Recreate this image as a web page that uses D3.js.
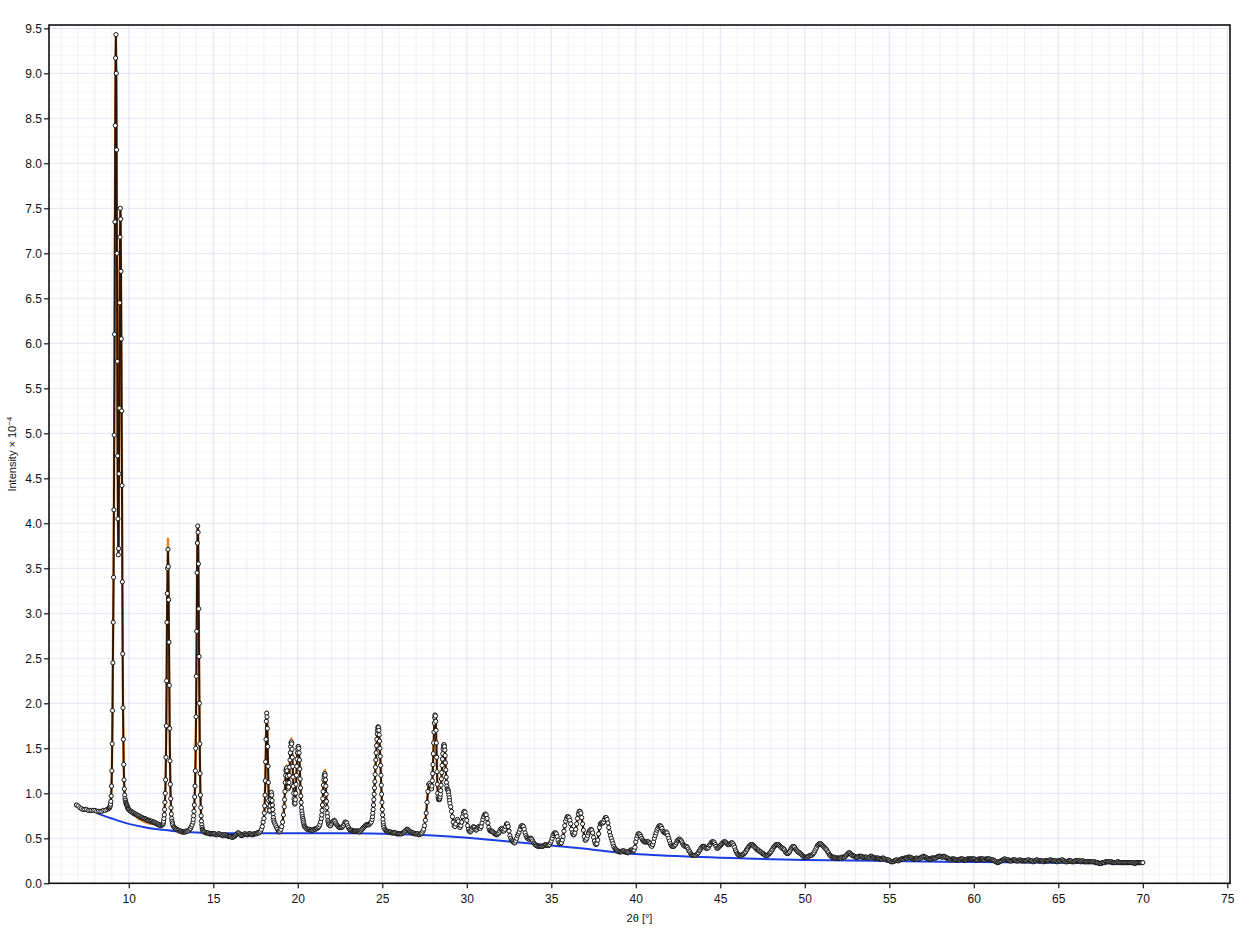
<!DOCTYPE html>
<html><head><meta charset="utf-8">
<script src="https://cdn.jsdelivr.net/npm/d3@7"></script>
<style>html,body{margin:0;padding:0;background:#fff;} svg{display:block;font-family:"Liberation Sans",Arial,Helvetica,sans-serif;}</style>
</head><body><svg id="chart" width="1260" height="933"></svg>
<script>
// ---------- DATA (2θ in degrees, intensity ×10^-4) ----------
const obsLow = [0.87,0.86,0.84,0.83,0.82,0.82,0.82,0.81,0.81,0.81,0.81,0.81,0.8,0.8,0.8,0.8,0.81,0.81,0.82,0.83]; // 6.9–8.8, step 0.1
const obsPeak9 = [0.83,0.84,0.84,0.85,0.86, 0.88,0.91,0.97,1.08,1.25, 1.55,1.92,2.45,2.9,3.4, 4.15,4.98,6.1,7.35,8.42,
  9.17,9.43,9.0,8.15,7.0, 5.8,4.75,4.05,3.65,3.72, 4.55,5.28,6.45,7.18,7.5, 7.38,6.8,6.05,5.25,4.42,
  3.35,2.55,1.95,1.6,1.32, 1.15,1.05,0.98,0.94,0.92, 0.9,0.89,0.88,0.87,0.86, 0.85,0.84,0.83,0.82]; // 8.82–9.98, step 0.02
const obsTail10 = [0.82,0.81,0.8,0.8,0.79, 0.78,0.78,0.77,0.77,0.76, 0.76,0.75,0.75,0.74,0.74, 0.73,0.73,0.72,0.72,0.72,
  0.71,0.71,0.7,0.7,0.7, 0.69,0.69,0.69,0.68,0.68, 0.68,0.67,0.67,0.66,0.66, 0.65,0.65,0.64,0.64,0.65]; // 10.0–11.95, step 0.05
const obsPeak12 = [0.65,0.66,0.67,0.69,0.72, 0.76,0.82,0.9,1.0,1.15, 1.4,1.75,2.25,2.9,3.22, 3.5,3.71,3.52,3.15,2.68,
  2.2,1.72,1.36,1.1,0.94, 0.84,0.77,0.72,0.69,0.67, 0.65]; // 12.00–12.60, step 0.02
const obsValley13 = [0.63,0.62,0.61,0.6,0.6, 0.59,0.59,0.58,0.58,0.58, 0.57,0.57,0.57,0.57,0.57, 0.58,0.58,0.58,0.59,0.6,
  0.61,0.63,0.65,0.68]; // 12.65–13.80, step 0.05
const obsPeak14 = [0.71,0.75,0.8,0.87,0.96, 1.08,1.25,1.5,1.85,2.3, 2.8,3.45,3.78,3.97,3.9, 3.55,3.05,2.52,2.0,1.55,
  1.22,0.98,0.84,0.75,0.69, 0.65,0.62,0.6,0.59,0.58]; // 13.82–14.40, step 0.02
const obs15to18 = [0.57,0.57,0.56,0.56,0.56,0.56,0.55,0.55,0.55,0.55,0.55,
  0.55,0.55,0.55,0.54,0.54,0.54,0.55,0.55,0.54,0.54,0.54,0.53,0.53,0.54,0.54,0.53,0.53,0.53,0.52,0.52,
  0.52,0.52,0.51,0.51,0.52,0.52,0.53,0.54,0.55,0.56,0.56,0.55,0.54,0.53,0.53,0.54,0.54,0.55,0.55,0.54,
  0.54,0.54,0.55,0.55,0.55,0.54,0.54,0.54,0.55,0.55,0.55,0.55,0.56,0.56,0.56,0.57,0.58,0.6,0.63,0.68]; // 14.45–17.95, step 0.05
const obsPeak18 = [0.72,0.78,0.86,0.98,1.14,1.35,1.6,1.8,1.89,1.85, 1.72,1.52,1.3,1.12,0.92,0.84,0.8,0.81,0.86,0.93,
  0.98,1.01,1.01,0.98,0.92,0.87,0.82,0.77,0.73,0.7, 0.68]; // 18.00–18.60, step 0.02
const obsValley19 = [0.66,0.64,0.62,0.6,0.58,0.57,0.58,0.6,0.63,0.68,0.76]; // 18.65–19.15, step 0.05
const obsPeak19 = [0.85,0.93,1.02,1.12,1.2,1.25,1.27,1.28,1.25,1.19,
  1.12,1.07,1.05,1.07,1.12,1.2,1.29,1.37,1.45,1.52,
  1.56,1.57,1.55,1.49,1.4,1.3,1.18,1.08,1.0,0.94,
  0.9,0.88,0.89,0.93,1.0,1.1,1.2,1.3,1.38,1.45,
  1.49,1.52,1.52,1.5,1.45,1.37,1.27,1.16,1.06,0.97,
  0.9,0.84,0.8,0.77,0.74,0.72,0.7,0.68,0.66,0.64, 0.63]; // 19.20–20.40, step 0.02
const obs21 = [0.62,0.61,0.6,0.6,0.6,0.6,0.59,0.59,0.59,0.59,0.6,0.6,0.6,0.61,0.61,0.62,0.63,0.65,0.68]; // 20.45–21.35, step 0.05
const obsPeak21 = [0.72,0.76,0.81,0.87,0.94,1.02,1.09,1.15,1.19,1.21,1.22,1.2,1.15,1.08,0.99,0.91,0.84,0.78,0.74,0.7,0.68,0.66,0.65]; // 21.40–21.84, step 0.02
const obs22to24 = [0.64,0.64,0.66,0.68,0.69,0.7,0.69,0.67,0.65,0.64,
  0.63,0.62,0.62,0.62,0.62,0.63,0.64,0.66,0.68,0.68,
  0.67,0.64,0.62,0.6,0.59,0.59,0.59,0.58,0.58,0.58,
  0.58,0.58,0.58,0.58,0.58,0.57,0.58,0.59,0.6,0.61,
  0.62,0.63,0.64,0.65,0.65,0.65,0.65,0.66,0.67,0.68]; // 21.90–24.35, step 0.05
const obsPeak25 = [0.71,0.74,0.78,0.82,0.87,0.93,0.99,1.06,1.13,1.21,
  1.29,1.37,1.45,1.53,1.6,1.66,1.7,1.73,1.74,1.73,
  1.7,1.65,1.58,1.5,1.41,1.31,1.2,1.09,0.99,0.9,
  0.82,0.76,0.71,0.67,0.64,0.62]; // 24.40–25.10, step 0.02
const obs25to28 = [0.6,0.59,0.58,0.58,0.57,0.57,0.57,0.57,0.56,0.56,
  0.56,0.56,0.56,0.56,0.55,0.55,0.55,0.55,0.55,0.55,
  0.55,0.56,0.56,0.57,0.58,0.59,0.6,0.6,0.59,0.58,
  0.57,0.57,0.56,0.56,0.56,0.55,0.55,0.55,0.55,0.55,
  0.54,0.54,0.55,0.55,0.56,0.58,0.6,0.64,0.7,0.78,
  0.9,1.02,1.1,1.11,1.09]; // 25.15–27.85, step 0.05
const obsPeak28 = [1.06,1.05,1.08,1.14,1.22,1.32,1.44,1.56,1.68,1.78,
  1.84,1.87,1.86,1.8,1.7,1.56,1.4,1.24,1.1,1.0,
  0.96,0.94,0.93,0.93,0.93,0.94,0.96,0.99,1.03,1.09,
  1.16,1.23,1.31,1.38,1.44,1.49,1.52,1.54,1.54,1.52,
  1.48,1.42,1.34,1.26,1.18,1.12,1.08,1.05,1.04,1.04,
  1.03,1.01,0.98,0.95,0.92,0.89]; // 27.90–29.00, step 0.02
const obs29to40 = [0.85,0.8,0.74,0.68,0.64,0.63,0.66,0.7,0.71,0.69,0.64,0.62,0.64,0.68,0.74,0.78,0.8,0.79,0.75,
  0.7,0.64,0.6,0.58,0.57,0.58,0.6,0.62,0.63,0.62,0.6,0.59,0.6,0.62,0.63,0.62,0.61,0.63,0.67,0.71,
  0.74,0.76,0.77,0.76,0.72,0.67,0.62,0.59,0.58,0.58,0.58,0.57,0.56,0.55,0.55,0.54,0.54,0.55,0.56,0.58,
  0.6,0.61,0.6,0.58,0.58,0.6,0.63,0.66,0.66,0.63,0.58,0.53,0.5,0.48,0.47,0.46,0.45,0.45,0.47,0.5,
  0.53,0.55,0.57,0.6,0.63,0.64,0.64,0.63,0.6,0.56,0.53,0.51,0.5,0.49,0.49,0.5,0.5,0.49,0.47,0.45,
  0.44,0.43,0.42,0.42,0.41,0.41,0.41,0.41,0.41,0.41,0.41,0.42,0.42,0.43,0.43,0.42,0.42,0.42,0.43,0.45,
  0.47,0.5,0.53,0.55,0.56,0.56,0.55,0.52,0.48,0.45,0.44,0.44,0.45,0.48,0.52,0.58,0.64,0.69,0.72,0.74,
  0.74,0.73,0.7,0.66,0.6,0.56,0.54,0.54,0.56,0.6,0.66,0.72,0.77,0.8,0.8,0.78,0.73,0.66,0.59,0.52,
  0.48,0.48,0.5,0.53,0.56,0.58,0.59,0.6,0.59,0.56,0.51,0.47,0.44,0.43,0.44,0.48,0.55,0.62,0.66,0.67,
  0.67,0.67,0.68,0.71,0.73,0.73,0.71,0.67,0.62,0.57,0.53,0.5,0.47,0.44,0.41,0.39,0.38,0.37,0.36,0.36,
  0.35,0.35,0.35,0.35,0.36,0.36,0.36,0.35,0.35,0.35,0.34,0.34,0.35,0.36,0.37,0.37,0.36,0.36,0.37,0.4]; // 29.05–39.95, step 0.05
const obs40to55 = [
  0.46,0.5,0.53,0.55,0.55,0.54,0.52,0.5,0.48,0.47,0.46,0.46,0.46,0.46,0.46,0.46,0.45,0.44,0.42,0.41,
  0.43,0.46,0.5,0.53,0.56,0.59,0.61,0.63,0.64,0.64,0.63,0.61,0.58,0.57,0.56,0.56,0.57,0.56,0.53,0.5,
  0.47,0.44,0.42,0.41,0.41,0.41,0.42,0.43,0.45,0.47,0.48,0.49,0.49,0.48,0.47,0.45,0.43,0.42,0.41,0.41,
  0.41,0.4,0.38,0.36,0.35,0.33,0.32,0.31,0.31,0.31,0.31,0.31,0.32,0.33,0.34,0.36,0.37,0.39,0.4,0.41,
  0.41,0.41,0.4,0.39,0.39,0.39,0.4,0.42,0.43,0.45,0.46,0.46,0.46,0.45,0.43,0.41,0.39,0.39,0.4,0.41,
  0.42,0.43,0.44,0.45,0.46,0.46,0.46,0.45,0.44,0.43,0.43,0.43,0.44,0.45,0.45,0.44,0.42,0.4,0.37,0.35,
  0.33,0.32,0.31,0.31,0.31,0.31,0.32,0.32,0.33,0.34,0.35,0.37,0.38,0.4,0.41,0.42,0.43,0.43,0.43,0.42,
  0.41,0.4,0.39,0.38,0.37,0.37,0.36,0.35,0.35,0.34,0.33,0.33,0.32,0.31,0.31,0.31,0.31,0.32,0.33,0.34,
  0.35,0.37,0.38,0.4,0.41,0.42,0.43,0.43,0.43,0.43,0.42,0.41,0.4,0.39,0.39,0.38,0.37,0.35,0.34,0.33,
  0.33,0.34,0.35,0.37,0.39,0.4,0.41,0.41,0.4,0.38,0.37,0.36,0.35,0.34,0.34,0.33,0.32,0.31,0.3,0.29,
  0.29,0.29,0.29,0.29,0.3,0.3,0.31,0.31,0.31,0.32,0.33,0.34,0.36,0.38,0.4,0.42,0.43,0.44,0.44,0.44,
  0.43,0.42,0.41,0.4,0.39,0.38,0.37,0.35,0.34,0.32,0.31,0.3,0.29,0.29,0.29,0.29,0.28,0.28,0.28,0.28,
  0.28,0.28,0.28,0.28,0.29,0.29,0.29,0.29,0.3,0.31,0.32,0.33,0.34,0.34,0.33,0.32,0.31,0.31,0.3,0.3,
  0.29,0.29,0.29,0.29,0.3,0.3,0.3,0.3,0.29,0.29,0.29,0.29,0.29,0.29,0.28,0.28,0.29,0.29,0.3,0.3,
  0.29,0.29,0.28,0.28,0.28,0.28,0.28,0.28,0.27,0.27,0.27,0.27,0.28,0.28,0.27,0.27,0.26,0.26,0.26,0.26]; // 40.00–54.95, step 0.05
const obs55to70 = [
  0.25,0.25,0.24,0.24,0.24,0.24,0.25,0.25,0.26,0.26,0.25,0.25,0.26,0.26,0.27,0.27,0.27,0.27,0.28,0.28,
  0.28,0.28,0.29,0.29,0.29,0.29,0.28,0.28,0.27,0.27,0.27,0.27,0.28,0.28,0.27,0.27,0.28,0.28,0.29,0.29,
  0.3,0.3,0.29,0.29,0.28,0.28,0.27,0.27,0.27,0.27,0.28,0.28,0.28,0.28,0.28,0.28,0.29,0.29,0.3,0.3,
  0.3,0.3,0.29,0.29,0.3,0.3,0.29,0.29,0.28,0.28,0.27,0.27,0.26,0.26,0.27,0.27,0.27,0.27,0.26,0.26,
  0.26,0.26,0.26,0.26,0.27,0.27,0.27,0.27,0.26,0.26,0.26,0.26,0.27,0.27,0.27,0.27,0.27,0.27,0.27,0.27,
  0.27,0.27,0.26,0.26,0.26,0.26,0.27,0.27,0.27,0.27,0.27,0.27,0.26,0.26,0.27,0.27,0.27,0.27,0.27,0.27,
  0.26,0.26,0.26,0.26,0.25,0.25,0.24,0.24,0.23,0.23,0.24,0.24,0.25,0.25,0.26,0.26,0.27,0.27,0.26,0.26,
  0.26,0.26,0.25,0.25,0.25,0.25,0.26,0.26,0.26,0.26,0.25,0.25,0.25,0.25,0.26,0.26,0.25,0.25,0.25,0.25,
  0.25,0.25,0.25,0.25,0.26,0.26,0.25,0.25,0.25,0.25,0.24,0.24,0.25,0.25,0.26,0.26,0.25,0.25,0.25,0.25,
  0.25,0.25,0.24,0.24,0.25,0.25,0.25,0.25,0.25,0.25,0.26,0.26,0.25,0.25,0.25,0.25,0.25,0.25,0.24,0.24,
  0.25,0.25,0.25,0.25,0.26,0.26,0.25,0.25,0.24,0.24,0.24,0.24,0.25,0.25,0.25,0.25,0.24,0.24,0.24,0.24,
  0.25,0.25,0.25,0.25,0.25,0.25,0.24,0.24,0.25,0.25,0.24,0.24,0.24,0.24,0.24,0.24,0.24,0.24,0.24,0.24,
  0.24,0.24,0.24,0.24,0.23,0.23,0.23,0.23,0.22,0.22,0.22,0.22,0.23,0.23,0.23,0.23,0.24,0.24,0.24,0.24,
  0.24,0.24,0.24,0.24,0.23,0.23,0.23,0.23,0.23,0.23,0.24,0.24,0.23,0.23,0.23,0.23,0.23,0.23,0.23,0.23,
  0.23,0.23,0.23,0.23,0.23,0.23,0.23,0.23,0.23,0.23,0.22,0.22,0.23,0.23,0.23,0.23,0.23,0.23,0.23,0.23,
  0.23]; // 55.00–70.00, step 0.05

// scan segments: [start 2θ, step, values]
const scanSegments = [
  [6.9, 0.1, obsLow], [8.82, 0.02, obsPeak9], [10.0, 0.05, obsTail10], [12.0, 0.02, obsPeak12],
  [12.65, 0.05, obsValley13], [13.82, 0.02, obsPeak14], [14.45, 0.05, obs15to18], [18.0, 0.02, obsPeak18],
  [18.65, 0.05, obsValley19], [19.2, 0.02, obsPeak19], [20.45, 0.05, obs21], [21.4, 0.02, obsPeak21],
  [21.9, 0.05, obs22to24], [24.4, 0.02, obsPeak25], [25.15, 0.05, obs25to28], [27.9, 0.02, obsPeak28],
  [29.05, 0.05, obs29to40], [40.0, 0.05, obs40to55], [55.0, 0.05, obs55to70]
];

// calculated profile where it differs visibly from the observed one: [2θ, value]
const calcDiff = [[12.32,3.83],[12.30,3.56],[18.16,1.91],[18.14,1.84],[19.34,1.31],[19.62,1.61],[19.60,1.59],[21.60,1.26],[21.58,1.24],
  [10.40,0.75],[10.45,0.74],[10.50,0.73],[10.55,0.72],[10.60,0.715],[10.65,0.71],[10.70,0.705],[10.75,0.70],[10.80,0.695],
  [10.85,0.69],[10.90,0.685],[10.95,0.68],[11.00,0.68],[11.05,0.675],[11.10,0.67],[11.15,0.67],[11.20,0.665],[11.25,0.665],
  [11.30,0.66],[11.35,0.66],[11.40,0.66],[11.45,0.66],[11.50,0.66]];

// refined background: [2θ, value]
const background = [[8.1,0.78],[9,0.72],[10,0.66],[11,0.62],[12,0.595],[13,0.575],[14,0.565],[15,0.56],[17,0.555],[20,0.555],
  [23,0.555],[25,0.55],[27,0.54],[29,0.52],[31,0.49],[33,0.455],[35,0.42],[37,0.385],[39,0.34],[41,0.315],[43,0.298],
  [45,0.285],[47,0.272],[50,0.26],[54,0.25],[58,0.24],[62,0.234],[66,0.226],[70,0.22]];

const xTicks = [10,15,20,25,30,35,40,45,50,55,60,65,70,75];
const yTicks = [0,0.5,1,1.5,2,2.5,3,3.5,4,4.5,5,5.5,6,6.5,7,7.5,8,8.5,9,9.5];

// ---------- CHART ----------
const svg = d3.select("#chart");
const x = d3.scaleLinear().domain([5.28, 75.16]).range([49, 1230]);
const y = d3.scaleLinear().domain([0, 9.537]).range([883.3, 25]);
const X0 = 49, X1 = 1230, Y0 = 25, Y1 = 883.3;

const obs = [];
scanSegments.forEach(([s, st, vals]) => vals.forEach((v, i) => obs.push({t: +(s + i * st).toFixed(2), v})));
const diffMap = new Map(calcDiff.map(([t, v]) => [t.toFixed(2), v]));
const calc = obs.map(p => ({t: p.t, v: diffMap.has(p.t.toFixed(2)) ? diffMap.get(p.t.toFixed(2)) : p.v}));

// grid
const grid = svg.append("g");
d3.range(6, 76, 1).filter(d => d % 5 !== 0).forEach(d => {
  grid.append("line").attr("x1", x(d)).attr("x2", x(d)).attr("y1", Y0).attr("y2", Y1).attr("stroke", "#eff0f9").attr("stroke-width", 1);
});
d3.range(1, 96, 1).filter(d => d % 5 !== 0).map(d => d / 10).forEach(d => {
  grid.append("line").attr("y1", y(d)).attr("y2", y(d)).attr("x1", X0).attr("x2", X1).attr("stroke", "#f5f6fc").attr("stroke-width", 1);
});
xTicks.forEach(d => {
  grid.append("line").attr("x1", x(d)).attr("x2", x(d)).attr("y1", Y0).attr("y2", Y1).attr("stroke", "#e1e4f4").attr("stroke-width", 1);
});
yTicks.forEach(d => {
  grid.append("line").attr("y1", y(d)).attr("y2", y(d)).attr("x1", X0).attr("x2", X1).attr("stroke", "#e1e4f4").attr("stroke-width", 1);
});

// background
svg.append("path").datum(background)
  .attr("d", d3.line().x(d => x(d[0])).y(d => y(d[1])).curve(d3.curveMonotoneX))
  .attr("fill", "none").attr("stroke", "#1c3de4").attr("stroke-width", 2);

// calc
svg.append("path").datum(calc)
  .attr("d", d3.line().x(d => x(d.t)).y(d => y(d.v)))
  .attr("fill", "none").attr("stroke", "#ec8226").attr("stroke-width", 2.4).attr("stroke-linejoin", "round");
// obs line
svg.append("path").datum(obs)
  .attr("d", d3.line().x(d => x(d.t)).y(d => y(d.v)))
  .attr("fill", "none").attr("stroke", "#24160c").attr("stroke-width", 1.9).attr("stroke-linejoin", "round");
// obs points
svg.append("g").selectAll("circle").data(obs).join("circle")
  .attr("cx", d => x(d.t)).attr("cy", d => y(d.v)).attr("r", 2.1)
  .attr("fill", "#fff").attr("stroke", "#151515").attr("stroke-width", 1);

// frame
svg.append("rect").attr("x", X0).attr("y", Y0).attr("width", X1 - X0).attr("height", Y1 - Y0)
  .attr("fill", "none").attr("stroke", "#111").attr("stroke-width", 1.6);

// axes
const ya = svg.append("g").attr("transform", `translate(${X0},0)`)
  .call(d3.axisLeft(y).tickValues(yTicks).tickFormat(d3.format(".1f")).tickSize(5).tickPadding(2));
const xa = svg.append("g").attr("transform", `translate(0,${Y1})`)
  .call(d3.axisBottom(x).tickValues(xTicks).tickFormat(d3.format("d")).tickSize(5).tickPadding(6));
[ya, xa].forEach(a => {
  a.select(".domain").remove();
  a.selectAll("line").attr("stroke", "#111").attr("stroke-width", 1.2);
  a.selectAll("text").attr("font-size", 12).attr("fill", "#111").attr("font-family", '"Liberation Sans", Arial, sans-serif');
});

// labels
svg.append("text").attr("x", (X0 + X1) / 2).attr("y", 922).attr("text-anchor", "middle")
  .attr("font-size", 11).attr("fill", "#111").text("2θ [°]");
const yl = svg.append("text").attr("transform", `translate(16,${(Y0 + Y1) / 2}) rotate(-90)`)
  .attr("text-anchor", "middle").attr("font-size", 11).attr("fill", "#111");
yl.append("tspan").text("Intensity × 10");
yl.append("tspan").attr("dy", -4).attr("font-size", 8).text("−4");
</script></body></html>
